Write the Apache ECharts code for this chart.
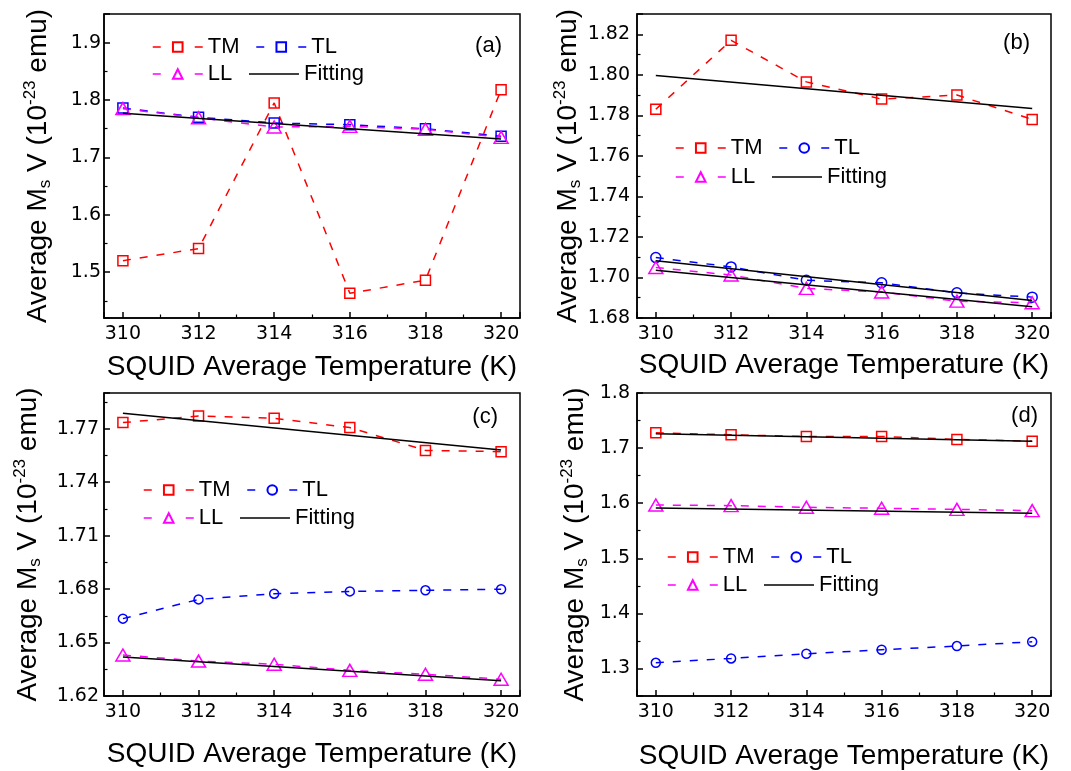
<!DOCTYPE html>
<html lang="en">
<head>
<meta charset="UTF-8">
<title>Average MsV vs SQUID temperature</title>
<script src="https://cdn.jsdelivr.net/npm/echarts@6/dist/echarts.min.js"></script>
<style>
  html, body { margin: 0; padding: 0; background: #fff; }
  #main { width: 1071px; height: 771px; }
</style>
</head>
<body>
<div id="main"></div>
<script>
// temperatures (K)
var temps = [310, 312, 314, 316, 318, 320];
var fitTemps = [310, 320];

// panel (a)
var aTM = [1.520, 1.541, 1.795, 1.463, 1.486, 1.818];
var aTL = [1.786, 1.770, 1.760, 1.757, 1.750, 1.737];
var aLL = [1.785, 1.769, 1.753, 1.754, 1.749, 1.735];
var aFit = [1.777, 1.732];

// panel (b)
var bTM = [1.783, 1.817, 1.7965, 1.788, 1.790, 1.778];
var bTL = [1.7098, 1.7052, 1.6986, 1.6974, 1.6924, 1.6903];
var bLL = [1.7049, 1.7012, 1.6946, 1.6928, 1.6883, 1.6875];
var bFitTM = [1.7996, 1.7834];
var bFitTL = [1.7082, 1.6886];
var bFitLL = [1.7036, 1.6855];

// panel (c)
var cTM = [1.7734, 1.7771, 1.7758, 1.7706, 1.7578, 1.7571];
var cTL = [1.6634, 1.6742, 1.6774, 1.6787, 1.6793, 1.6799];
var cLL = [1.6430, 1.6396, 1.6378, 1.6344, 1.6322, 1.6294];
var cFitTM = [1.7786, 1.7580];
var cFitLL = [1.6419, 1.6285];

// panel (d)
var dTM = [1.7278, 1.7241, 1.7211, 1.7211, 1.7157, 1.7126];
var dTL = [1.3103, 1.3182, 1.3267, 1.3340, 1.3407, 1.3485];
var dLL = [1.5967, 1.5955, 1.5925, 1.5907, 1.5888, 1.5864];
var dFitTM = [1.7260, 1.7126];
var dFitLL = [1.5913, 1.5816];

// y axis ranges / label steps
var yMin = [1.42, 1.68, 1.62, 1.25];
var yMax = [1.95, 1.83, 1.79, 1.80];
var yStep = [0.1, 0.02, 0.03, 0.1];
var yDec = [1, 2, 2, 1];
var panelTags = ['(a)', '(b)', '(c)', '(d)'];

var RED = '#ff0000', BLUE = '#0000ff', MAG = '#ff00ff';
var FONT = 'Liberation Sans';
var TICKFONT = 'DejaVu Sans';

function pts(xs, ys) {
  return xs.map(function (x, i) { return [x, ys[i]]; });
}

// only label the "round" ticks, the extent ends stay blank
function fmt(step, dec) {
  return function (v) {
    var k = v / step;
    return Math.abs(k - Math.round(k)) < 1e-6 ? v.toFixed(dec) : '';
  };
}

var grids = [
  { left: 104, top: 14, width: 416, height: 304 },
  { left: 637, top: 14, width: 414, height: 304 },
  { left: 104, top: 393, width: 416, height: 303 },
  { left: 637, top: 393, width: 414, height: 303 }
];
var xNameGap = [35, 33, 44, 46];
var yNameGap = [50, 53, 60, 46];
var yLabelMargin = [3, 7, 5, 7];
var legendPos = [
  { left: 152, top: [36, 63] },
  { left: 675, top: [137, 166] },
  { left: 143, top: [479, 507] },
  { left: 667, top: [546, 574] }
];
var tagPos = [
  { right: 569, top: 35 },
  { right: 41, top: 32 },
  { right: 573, top: 406 },
  { right: 33, top: 405 }
];

var xAxes = [], yAxes = [], legends = [], titles = [];
grids.forEach(function (g, i) {
  g.show = true;
  g.borderColor = '#000';
  g.borderWidth = 1.5;
  g.containLabel = false;
  xAxes.push({
    type: 'value', gridIndex: i, min: 309.5, max: 320.5, splitNumber: 5,
    axisLine: { lineStyle: { color: '#000', width: 1.5 } },
    axisTick: { inside: true, length: 6, lineStyle: { color: '#000', width: 1.5 } },
    minorTick: { show: true, splitNumber: 2, length: 3.5, lineStyle: { color: '#000', width: 1.2 } },
    splitLine: { show: false },
    axisLabel: { color: '#000', fontFamily: TICKFONT, fontSize: 19, margin: 7, formatter: fmt(2, 0) },
    name: 'SQUID Average Temperature (K)', nameLocation: 'middle', nameGap: xNameGap[i],
    nameTextStyle: { color: '#000', fontFamily: FONT, fontSize: 28 }
  });
  var y = {
    type: 'value', gridIndex: i, min: yMin[i], max: yMax[i], splitNumber: 5,
    axisLine: { lineStyle: { color: '#000', width: 1.5 } },
    axisTick: { inside: true, length: 6, lineStyle: { color: '#000', width: 1.5 } },
    minorTick: { show: true, splitNumber: 2, length: 3.5, lineStyle: { color: '#000', width: 1.2 } },
    splitLine: { show: false },
    axisLabel: { color: '#000', fontFamily: TICKFONT, fontSize: 19, margin: yLabelMargin[i], formatter: fmt(yStep[i], yDec[i]) },
    name: 'Average M{s|s} V (10{p|-23} emu)', nameLocation: 'middle', nameGap: yNameGap[i],
    nameTextStyle: {
      color: '#000', fontFamily: FONT, fontSize: 28, lineHeight: 32,
      rich: {
        s: { color: '#000', fontFamily: FONT, fontSize: 17, lineHeight: 17, verticalAlign: 'bottom' },
        p: { color: '#000', fontFamily: FONT, fontSize: 17, lineHeight: 17, verticalAlign: 'top' }
      }
    }
  };
  if (i === 1 || i === 2) y.interval = yStep[i];
  yAxes.push(y);

  var p = 'abcd'[i];
  var base = {
    left: legendPos[i].left, orient: 'horizontal', padding: 0,
    itemWidth: 50, itemHeight: 12, itemGap: 16, selectedMode: false,
    textStyle: { color: '#000', fontFamily: FONT, fontSize: 22, lineHeight: 22 },
    lineStyle: { width: 1.5, type: [8, 34] },
    formatter: function (n) { return n.split(':')[1]; }
  };
  legends.push(Object.assign({}, base, { top: legendPos[i].top[0], data: [p + ':TM', p + ':TL'] }));
  legends.push(Object.assign({}, base, {
    top: legendPos[i].top[1],
    data: [p + ':LL', { name: p + ':Fitting', itemStyle: { opacity: 0 }, lineStyle: { type: 'solid' } }]
  }));

  titles.push({
    text: panelTags[i], right: tagPos[i].right, top: tagPos[i].top, padding: 0,
    textStyle: { color: '#000', fontFamily: FONT, fontSize: 22, fontWeight: 'normal', lineHeight: 22 }
  });
});

function marked(i, name, ys, color, symbol, size) {
  return {
    name: 'abcd'[i] + ':' + name, type: 'line', xAxisIndex: i, yAxisIndex: i,
    data: pts(temps, ys), symbol: symbol, symbolSize: size, showSymbol: true,
    lineStyle: { color: color, width: 1.5, type: [8, 9] },
    itemStyle: { color: 'transparent', borderColor: color, borderWidth: 1.5 },
    emphasis: { disabled: true }, z: 2
  };
}
function fit(i, ys) {
  return {
    name: 'abcd'[i] + ':Fitting', type: 'line', xAxisIndex: i, yAxisIndex: i,
    data: pts(fitTemps, ys), symbol: 'none',
    lineStyle: { color: '#000', width: 1.5, type: 'solid' },
    itemStyle: { color: '#000' },
    emphasis: { disabled: true }, z: 3
  };
}

var series = [
  marked(0, 'TM', aTM, RED, 'rect', 10),
  marked(0, 'TL', aTL, BLUE, 'rect', 10),
  marked(0, 'LL', aLL, MAG, 'triangle', [14, 12]),
  fit(0, aFit),

  marked(1, 'TM', bTM, RED, 'rect', 10),
  marked(1, 'TL', bTL, BLUE, 'circle', 10),
  marked(1, 'LL', bLL, MAG, 'triangle', [14, 12]),
  fit(1, bFitTM), fit(1, bFitTL), fit(1, bFitLL),

  marked(2, 'TM', cTM, RED, 'rect', 10),
  marked(2, 'TL', cTL, BLUE, 'circle', 9),
  marked(2, 'LL', cLL, MAG, 'triangle', [14, 12]),
  fit(2, cFitTM), fit(2, cFitLL),

  marked(3, 'TM', dTM, RED, 'rect', 10),
  marked(3, 'TL', dTL, BLUE, 'circle', 9),
  marked(3, 'LL', dLL, MAG, 'triangle', [14, 12]),
  fit(3, dFitTM), fit(3, dFitLL)
];

var chart = echarts.init(document.getElementById('main'));
chart.setOption({
  animation: false,
  backgroundColor: '#fff',
  textStyle: { fontFamily: FONT },
  title: titles,
  legend: legends,
  grid: grids,
  xAxis: xAxes,
  yAxis: yAxes,
  series: series
});
</script>
</body>
</html>
